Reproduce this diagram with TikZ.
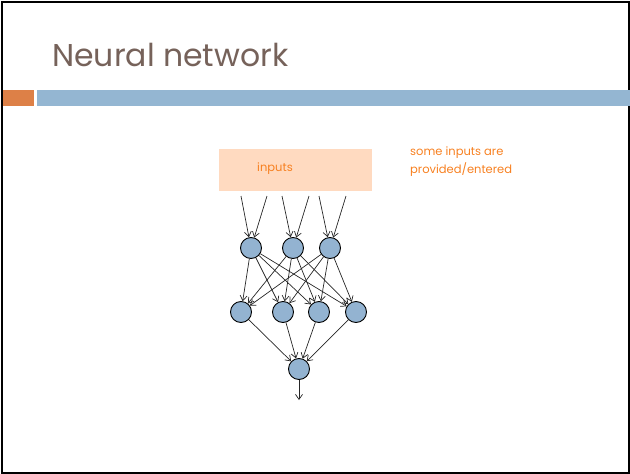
\documentclass[tikz,border=0pt]{standalone}
\usepackage{fontspec}
\setmainfont{Poppins}
\usetikzlibrary{positioning, arrows.meta}

\definecolor{titlebrown}{RGB}{118,98,90}
\definecolor{barorange}{RGB}{221,128,71}
\definecolor{barblue}{RGB}{148,182,210}
\definecolor{nodeblue}{RGB}{147,179,209}
\definecolor{peach}{RGB}{255,218,192}
\definecolor{noteorange}{RGB}{247,128,32}

\begin{document}
\begin{tikzpicture}[x=1pt, y=-1pt,
    neuron/.style={circle, draw=black, fill=nodeblue, minimum size=21pt, inner sep=0pt, line width=0.9pt},
    link/.style={-{Straight Barb[length=5pt, width=7pt]}, draw=black!85, line width=0.7pt},
    note/.style={text=noteorange, font=\fontsize{11.5}{18}\selectfont}
]
    \useasboundingbox (0,0) rectangle (630,474);

    % Slide frame
    \draw[line width=2pt] (1.5,1.5) rectangle (628.5,472.5);

    % Title and bars
    \node[anchor=base west, inner sep=0pt, text=titlebrown, font=\fontsize{31.5}{36}\selectfont] (title) at (52,66) {Neural network};
    \fill[barorange] (3,90) rectangle (34,106);
    \fill[barblue] (37,90) rectangle (630,106);

    % Input box
    \fill[peach] (219,149) rectangle (372,191);
    \node[note] (inputs) at (275,169) {inputs};
    \node[note, anchor=north west, align=left, inner sep=0pt] (remark) at (410,147) {some inputs are\\provided/entered};

    % === Hidden layer 1 ===
    \node[neuron] (h1) at (251,248) {};
    \node[neuron] (h2) at (293,248) {};
    \node[neuron] (h3) at (330,248) {};

    % === Hidden layer 2 ===
    \node[neuron] (m1) at (241,312) {};
    \node[neuron] (m2) at (283,312) {};
    \node[neuron] (m3) at (319,312) {};
    \node[neuron] (m4) at (356,312) {};

    % === Output ===
    \node[neuron] (out) at (299,369) {};

    % Input arrow tails
    \coordinate (a1) at (241,196);
    \coordinate (b1) at (267,196);
    \coordinate (a2) at (282,196);
    \coordinate (b2) at (309,196);
    \coordinate (a3) at (319,196);
    \coordinate (b3) at (346,196);
    \coordinate (end) at (299,400);

    % Connections
    \foreach \i in {1,2,3} {
        \draw[link] (a\i) -- (h\i);
        \draw[link] (b\i) -- (h\i);
        \foreach \j in {1,2,3,4}
            \draw[link] (h\i) -- (m\j);
    }
    \foreach \j in {1,2,3,4}
        \draw[link] (m\j) -- (out);
    \draw[link] (out) -- (end);

\end{tikzpicture}
\end{document}
